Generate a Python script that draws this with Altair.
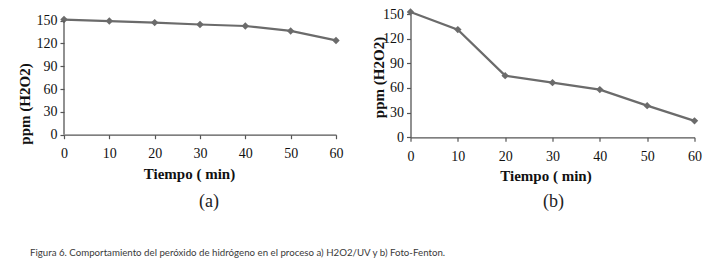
import altair as alt
import pandas as pd

tiempo = [0, 10, 20, 30, 40, 50, 60]
ppm_a = [151.5, 149.5, 147.5, 145, 143, 136.5, 124]
ppm_b = [152.5, 131, 75, 66.5, 58, 38.5, 20]
y_ticks = [0, 30, 60, 90, 120, 150]
x_ticks = [0, 10, 20, 30, 40, 50, 60]

caption = "Figura 6. Comportamiento del peróxido de hidrógeno en el proceso a) H2O2/UV y b) Foto-Fenton."

df_a = pd.DataFrame({"t": tiempo, "ppm": ppm_a})
df_b = pd.DataFrame({"t": tiempo, "ppm": ppm_b})
df_axis = pd.DataFrame({"t": [x_ticks[0]], "ppm": [y_ticks[0]], "ppm_top": [y_ticks[-1]]})

GRAY = "#6b6b6b"
AX = "#555555"


def panel(df, w, h, ymax, label, title_x, title_y, label_offset, label_dx, xtitle_x, draw_rule):
    xscale = alt.Scale(domain=[0, 60], nice=False)
    yscale = alt.Scale(domain=[0, ymax], nice=False)
    x = alt.X("t:Q", title="Tiempo ( min)", scale=xscale,
              axis=alt.Axis(values=x_ticks, titlePadding=5.5, labelPadding=8,
                            labelFlush=False, titleX=xtitle_x, titleAlign="center"))
    y = alt.Y("ppm:Q", title="ppm (H2O2)", scale=yscale,
              axis=alt.Axis(values=y_ticks, titleX=title_x, titleY=title_y,
                            titleBaseline="middle", titleAlign="center",
                            labelPadding=3, labelFlush=False, domain=not draw_rule))
    base = alt.Chart(df)
    line = base.mark_line(color=GRAY, strokeWidth=2.2, clip=False).encode(x=x, y=y)
    pts = base.mark_point(shape="diamond", filled=True, color=GRAY, size=55,
                          opacity=1, clip=False).encode(x=x, y=y)
    layers = [line, pts]
    if draw_rule:
        rule = alt.Chart(df_axis).mark_rule(color=AX, strokeWidth=1.3, clip=False).encode(
            x=x, y=y, y2="ppm_top:Q")
        layers = layers + [rule]
    return alt.layer(*layers).properties(
        width=w, height=h,
        title=alt.TitleParams(text=label, orient="bottom", anchor="middle",
                              font="Liberation Serif", fontSize=18,
                              fontWeight="normal", color="#222", offset=label_offset,
                              dx=label_dx),
    )


left = panel(df_a, 272, 120.7, 158.8, "(a)", -40, 89.5, 12, 9, 125, True)
right = panel(df_b, 284, 123.3, 150, "(b)", -32, 63, 9.5, 1, 135, False)

chart = alt.hconcat(left, right, spacing=27.5).properties(
    title=alt.TitleParams(text=caption, orient="bottom", anchor="start",
                          font="Lato", fontSize=9.7, fontWeight="normal",
                          color="#3a3a3a", offset=37, dx=13),
    padding={"left": 17, "top": 7, "right": 5, "bottom": 0},
).configure_view(stroke=None).configure_axis(
    grid=False,
    domainColor=AX, tickColor=AX, domainWidth=1.3, tickWidth=1.2, tickSize=4,
    labelFont="Liberation Serif", labelFontSize=14, labelColor="#111",
    titleFont="Liberation Serif", titleFontSize=15, titleFontWeight="bold",
    titleColor="#111",
)

chart.save("out.html", embed_options={"renderer": "svg", "actions": False})
